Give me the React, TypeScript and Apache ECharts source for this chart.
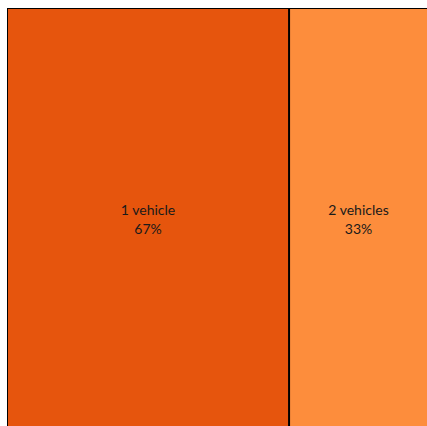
import React, { useEffect, useRef } from "react";
import * as echarts from "echarts";

const categories = ["1 vehicle", "2 vehicles"];
const shares = [67, 33];
const colors = ["#E6550D", "#FD8D3C"];

export default function App() {
  const ref = useRef<HTMLDivElement>(null);
  useEffect(() => {
    if (!ref.current) return;
    const chart = echarts.init(ref.current, null, { renderer: "svg" });
    const total = shares.reduce((a, b) => a + b, 0);
    chart.setOption({
      animation: false,
      series: [
        {
          type: "treemap",
          left: 1,
          top: 1,
          width: 421,
          height: 422,
          roam: false,
          nodeClick: false,
          breadcrumb: { show: false },
          sort: false,
          itemStyle: { borderColor: "#000", borderWidth: 1, gapWidth: 0 },
          levels: [
            { itemStyle: { borderWidth: 0, gapWidth: 0, borderColor: "#000" } },
          ],
          label: {
            show: true,
            position: "inside",
            align: "center",
            verticalAlign: "middle",
            color: "#1a1a1a",
            fontFamily: "Lato",
            fontSize: 14,
            lineHeight: 19,
            formatter: (p: any) =>
              `${p.name}\n${Math.round((p.value / total) * 100)}%`,
          },
          data: categories.map((c, i) => ({
            name: c,
            value: shares[i],
            itemStyle: { color: colors[i], borderColor: "#000", borderWidth: 1 },
          })),
        },
      ],
    });
    return () => chart.dispose();
  }, []);
  return (
    <div
      ref={ref}
      style={{ position: "absolute", left: 6, top: 7, width: 440, height: 440 }}
    />
  );
}
